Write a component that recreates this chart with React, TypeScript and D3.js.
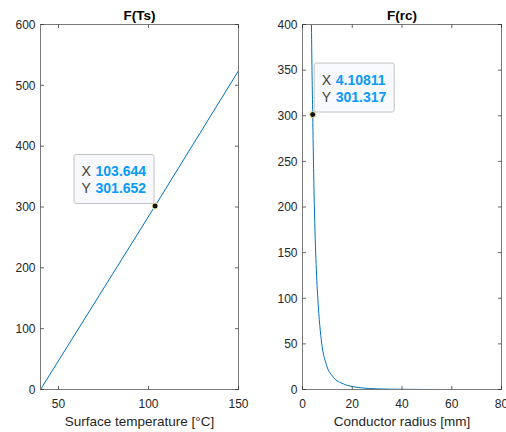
import React from "react";
import * as d3 from "d3";

const tsValues = [40, 103.644, 150];
const fTsValues = [0, 301.652, 524];
const tsTicks = [50, 100, 150];
const fTsTicks = [0, 100, 200, 300, 400, 500, 600];

const rcValues = [3.3, 3.6, 4.10811, 4.5, 5, 5.76, 6.15, 7.75, 9.5, 12.4, 16.4, 20, 23.7, 30, 40, 50, 60, 70, 80];
const fRcValues = [500, 400, 301.317, 235, 176, 119.5, 100, 50, 28, 13.5, 6.2, 3.3, 1.8, 0.7, 0.2, 0.05, 0.01, 0, 0];
const rcTicks = [0, 20, 40, 60, 80];
const fRcTicks = [0, 50, 100, 150, 200, 250, 300, 350, 400];

const tipLeft = { x: 103.644, y: 301.652 };
const tipRight = { x: 4.10811, y: 301.317 };

const FONT = "'Liberation Sans', Arial, Helvetica, sans-serif";
const AX = "#262626";
const LINE = "#0072BD";

type PanelProps = {
  id: string;
  left: number;
  right: number;
  top: number;
  bottom: number;
  xDomain: [number, number];
  yDomain: [number, number];
  xTicks: number[];
  yTicks: number[];
  xs: number[];
  ys: number[];
  title: string;
  xLabel: string;
  tip: { x: number; y: number };
  tipXLabel: string;
  tipYLabel: string;
  tipSide: "left" | "right";
  smooth: boolean;
};

function Panel(p: PanelProps) {
  const x = d3.scaleLinear().domain(p.xDomain).range([p.left, p.right]);
  const y = d3.scaleLinear().domain(p.yDomain).range([p.bottom, p.top]);
  const pts: [number, number][] = p.xs.map((v, i) => [v, p.ys[i]]);
  const line = d3
    .line<[number, number]>()
    .x((d) => x(d[0]))
    .y((d) => y(d[1]))
    .curve(p.smooth ? d3.curveMonotoneX : d3.curveLinear);
  const tl = 3.5;
  const mx = x(p.tip.x);
  const my = y(p.tip.y);
  const bw = 80;
  const bh = 49;
  const bx = p.tipSide === "left" ? mx - bw - 1.5 : mx + 1;
  const by = my - bh - 3;
  const cx = (p.left + p.right) / 2;
  return (
    <g>
      <defs>
        <clipPath id={p.id}>
          <rect x={p.left} y={p.top} width={p.right - p.left} height={p.bottom - p.top} />
        </clipPath>
      </defs>
      <path d={line(pts) || ""} fill="none" stroke={LINE} strokeWidth={1} clipPath={`url(#${p.id})`} />
      <rect
        x={p.left}
        y={p.top}
        width={p.right - p.left}
        height={p.bottom - p.top}
        fill="none"
        stroke="#7a7a7a"
        strokeWidth={1}
      />
      {p.xTicks.map((t) => (
        <g key={"xt" + t}>
          <line x1={x(t)} x2={x(t)} y1={p.bottom} y2={p.bottom - tl} stroke={AX} strokeWidth={0.7} />
          <line x1={x(t)} x2={x(t)} y1={p.top} y2={p.top + tl} stroke={AX} strokeWidth={0.7} />
          <text x={x(t)} y={408} textAnchor="middle" fontSize={12} fill={AX} fontFamily={FONT}>
            {t}
          </text>
        </g>
      ))}
      {p.yTicks.map((t) => (
        <g key={"yt" + t}>
          <line x1={p.left} x2={p.left + tl} y1={y(t)} y2={y(t)} stroke={AX} strokeWidth={0.7} />
          <line x1={p.right} x2={p.right - tl} y1={y(t)} y2={y(t)} stroke={AX} strokeWidth={0.7} />
          <text
            x={p.left - 5}
            y={y(t)}
            dy="0.36em"
            textAnchor="end"
            fontSize={12}
            fill={AX}
            fontFamily={FONT}
          >
            {t}
          </text>
        </g>
      ))}
      <text x={cx} y={19.5} textAnchor="middle" fontSize={13.5} fontWeight="bold" fill="#000" fontFamily={FONT}>
        {p.title}
      </text>
      <text x={cx} y={426} textAnchor="middle" fontSize={13.5} fill={AX} fontFamily={FONT}>
        {p.xLabel}
      </text>
      <rect
        x={bx + 0.5}
        y={by + 0.5}
        width={bw}
        height={bh}
        rx={2}
        fill="#f8f9fd"
        stroke="#c4c4c4"
        strokeWidth={1}
      />
      <text x={bx + 8} y={by + 22.5} fontSize={14} fill="#404040" fontFamily={FONT}>
        X
      </text>
      <text x={bx + 22} y={by + 22.5} fontSize={14} fontWeight="bold" fill="#0a9bf7" fontFamily={FONT}>
        {p.tipXLabel}
      </text>
      <text x={bx + 8} y={by + 39.5} fontSize={14} fill="#404040" fontFamily={FONT}>
        Y
      </text>
      <text x={bx + 22} y={by + 39.5} fontSize={14} fontWeight="bold" fill="#0a9bf7" fontFamily={FONT}>
        {p.tipYLabel}
      </text>
      <circle cx={mx} cy={my} r={3} fill="#111" stroke="#f0e6a0" strokeWidth={1} />
    </g>
  );
}

export default function App() {
  return (
    <svg
      width={506}
      height={432}
      style={{ position: "absolute", left: 0, top: 0, background: "#fff" }}
    >
      <rect x={0} y={0} width={506} height={432} fill="#fff" />
      <Panel
        id="clipA"
        left={40.5}
        right={238.5}
        top={24.5}
        bottom={389.5}
        xDomain={[40, 150]}
        yDomain={[0, 600]}
        xTicks={tsTicks}
        yTicks={fTsTicks}
        xs={tsValues}
        ys={fTsValues}
        title="F(Ts)"
        xLabel="Surface temperature [°C]"
        tip={tipLeft}
        tipXLabel="103.644"
        tipYLabel="301.652"
        tipSide="left"
        smooth={false}
      />
      <Panel
        id="clipB"
        left={302.5}
        right={501.5}
        top={24.5}
        bottom={389.5}
        xDomain={[0, 80]}
        yDomain={[0, 400]}
        xTicks={rcTicks}
        yTicks={fRcTicks}
        xs={rcValues}
        ys={fRcValues}
        title="F(rc)"
        xLabel="Conductor radius [mm]"
        tip={tipRight}
        tipXLabel="4.10811"
        tipYLabel="301.317"
        tipSide="right"
        smooth={true}
      />
    </svg>
  );
}
